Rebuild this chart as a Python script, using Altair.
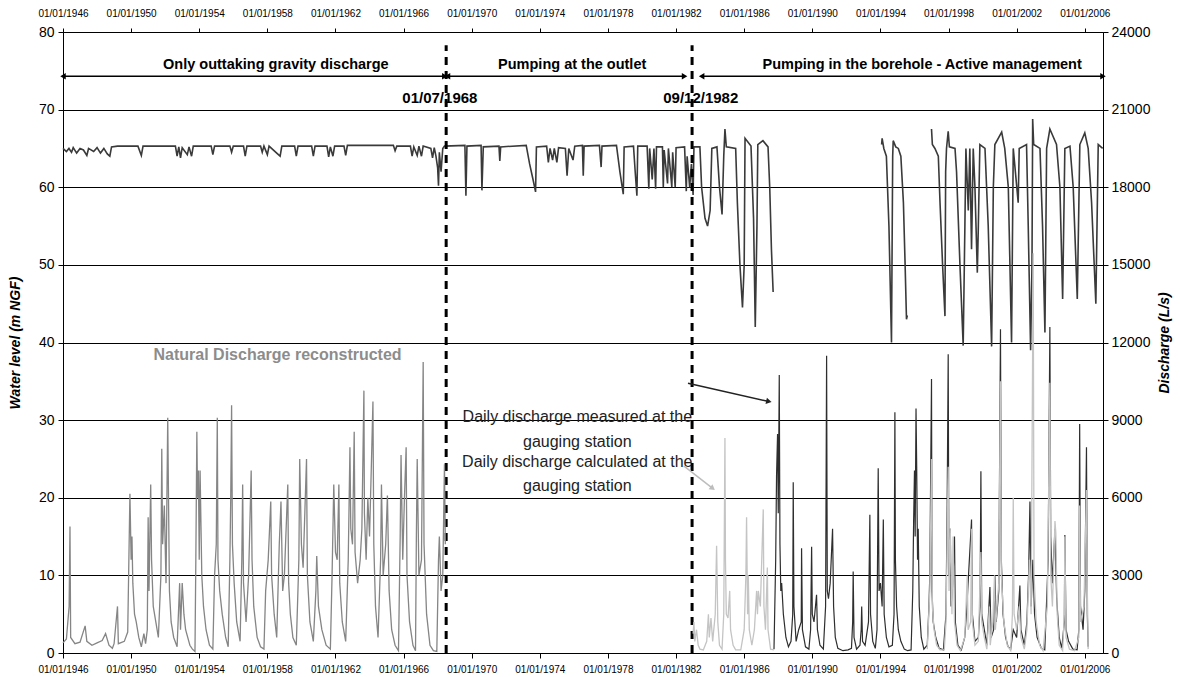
import altair as alt
import pandas as pd

FONT = "Liberation Sans"

# ---------------- Water level (m NGF) ----------------
wl1_t = [1946.00, 1946.20, 1946.35, 1946.50, 1946.60, 1946.80, 1947.00, 1947.20, 1947.40, 1947.50,
         1947.80, 1948.00, 1948.20, 1948.40, 1948.60, 1948.75, 1948.85, 1949.20, 1949.50, 1950.40,
         1950.60, 1950.70, 1952.60, 1952.70, 1952.80, 1952.90, 1953.00, 1953.30, 1953.40, 1953.55,
         1953.65, 1954.70, 1954.80, 1954.90, 1955.80, 1955.90, 1956.00, 1956.60, 1956.70, 1956.80,
         1957.60, 1957.70, 1957.80, 1958.00, 1958.10, 1958.60, 1958.75, 1958.85, 1959.60, 1959.70,
         1959.80, 1960.60, 1960.70, 1960.80, 1961.50, 1961.60, 1961.70, 1961.85, 1961.95, 1962.50,
         1962.60, 1962.70, 1965.40, 1965.50, 1965.60, 1966.40, 1966.50, 1966.60, 1966.80, 1966.90,
         1967.05, 1967.15, 1967.60, 1967.70, 1967.80, 1967.90, 1968.00, 1968.05, 1968.10, 1968.20,
         1968.30, 1968.40, 1969.60, 1969.66, 1969.72, 1970.55, 1970.60, 1970.68, 1971.60, 1971.65,
         1971.70, 1973.20, 1973.40, 1973.60, 1973.75, 1973.80, 1974.40, 1974.50, 1974.60, 1974.75,
         1974.85, 1975.00, 1975.10, 1975.50, 1975.60, 1975.70, 1975.95, 1976.05, 1976.50, 1976.55,
         1976.60, 1977.50, 1977.60, 1977.65, 1978.50, 1978.70, 1978.90, 1978.95, 1979.50, 1979.60,
         1979.70, 1979.75, 1980.30, 1980.40, 1980.45, 1980.60, 1980.70, 1980.80, 1980.85, 1981.20,
         1981.25, 1981.30, 1981.50, 1981.55, 1981.75, 1981.80, 1981.95, 1982.00, 1982.50, 1982.60,
         1982.65, 1982.80, 1982.90, 1983.00, 1983.05, 1983.40, 1983.50, 1983.70, 1983.85, 1984.00,
         1984.10, 1984.40, 1984.55, 1984.70, 1984.80, 1984.87, 1984.95, 1985.50, 1985.60, 1985.75,
         1985.90, 1986.00, 1986.05, 1986.40, 1986.55, 1986.65, 1986.75, 1986.80, 1987.10, 1987.40,
         1987.50, 1987.60, 1987.70]
wl1_v = [65.0, 64.6, 65.0, 64.5, 65.1, 64.4, 65.0, 64.8, 64.1, 65.0,
         64.6, 65.1, 64.4, 65.0, 64.3, 64.0, 65.2, 65.3, 65.3, 65.3,
         64.1, 65.3, 65.3, 64.0, 65.2, 63.8, 65.1, 64.2, 65.2, 64.0,
         65.3, 65.3, 64.2, 65.3, 65.3, 64.5, 65.3, 65.3, 64.0, 65.3,
         65.3, 64.5, 65.3, 64.2, 65.3, 64.3, 64.0, 65.3, 65.3, 64.0,
         65.3, 65.3, 64.0, 65.3, 65.3, 63.9, 65.2, 64.0, 65.3, 65.3,
         64.1, 65.4, 65.4, 64.7, 65.3, 65.3, 64.0, 65.2, 64.1, 65.3,
         64.0, 65.3, 65.0, 63.8, 65.1, 64.0, 62.5, 60.2, 64.5, 62.0,
         65.0, 65.3, 65.4, 58.9, 65.3, 65.4, 59.6, 65.2, 65.3, 63.4,
         65.2, 65.4, 63.0, 61.0, 59.4, 65.2, 65.3, 63.2, 65.0, 63.5,
         65.0, 63.2, 65.1, 65.0, 61.5, 65.0, 63.5, 65.3, 65.4, 61.5,
         65.3, 65.4, 62.6, 65.3, 65.4, 62.0, 59.1, 65.2, 65.3, 62.0,
         58.9, 65.3, 65.3, 59.8, 65.0, 61.0, 65.0, 59.8, 65.2, 65.2,
         60.0, 64.8, 60.5, 65.0, 60.0, 64.5, 60.0, 65.1, 65.2, 59.5,
         64.0, 60.0, 63.0, 59.0, 65.2, 65.2, 60.0, 56.0, 55.0, 57.0,
         65.0, 65.2, 60.0, 56.5, 64.0, 67.5, 65.2, 65.0, 58.0, 50.0,
         44.5, 50.0, 66.3, 65.3, 56.0, 42.0, 55.0, 65.5, 66.0, 65.2,
         60.0, 52.0, 46.5]

wl2_t = [1994.07, 1994.10, 1994.20, 1994.35, 1994.50, 1994.65, 1994.72, 1994.75, 1994.90, 1995.05,
         1995.20, 1995.35, 1995.45, 1995.53, 1995.58]
wl2_v = [65.5, 66.3, 65.0, 64.0, 55.0, 40.0, 64.0, 66.0, 65.2, 65.0,
         64.0, 58.0, 50.0, 43.0, 43.5]

wl3_t = [1997.00, 1997.05, 1997.20, 1997.40, 1997.50, 1997.65, 1997.79, 1997.83, 1997.88, 1997.98,
         1998.05, 1998.38, 1998.47, 1998.67, 1998.86, 1998.96, 1999.02, 1999.16, 1999.25, 1999.35,
         1999.45, 1999.55, 1999.69, 1999.75, 1999.84, 2000.14, 2000.33, 2000.53, 2000.63, 2000.72,
         2001.12, 2001.30, 2001.51, 2001.70, 2001.80, 2002.09, 2002.15, 2002.58, 2002.68, 2002.82,
         2002.90, 2002.94, 2003.00, 2003.37, 2003.52, 2003.66, 2003.76, 2003.95, 2004.34, 2004.54,
         2004.70, 2004.83, 2005.13, 2005.32, 2005.56, 2005.71, 2006.00, 2006.20, 2006.40, 2006.65,
         2006.79, 2007.05]
wl3_v = [67.5, 65.5, 65.0, 64.0, 58.0, 50.0, 43.4, 62.0, 65.0, 67.2,
         65.2, 65.0, 62.0, 50.0, 39.6, 55.0, 65.0, 57.0, 65.0, 52.0,
         65.0, 60.0, 49.0, 55.0, 65.5, 65.0, 55.0, 39.5, 60.0, 65.5,
         67.1, 65.0, 60.0, 40.0, 65.0, 58.0, 65.0, 65.5, 55.0, 39.0,
         50.0, 68.8, 65.5, 65.0, 55.0, 41.3, 65.0, 67.5, 65.5, 60.0,
         45.6, 65.0, 65.3, 60.0, 45.6, 65.5, 67.0, 65.0, 58.0, 45.0,
         65.5, 65.0]

# ---------------- Discharge (L/s) ----------------
nat_t = [1946.00, 1946.20, 1946.36, 1946.41, 1946.45, 1946.70, 1947.00, 1947.30, 1947.40, 1947.70,
         1948.00, 1948.30, 1948.50, 1948.70, 1948.90, 1949.00, 1949.20, 1949.25, 1949.60, 1949.80,
         1949.93, 1950.00, 1950.05, 1950.10, 1950.20, 1950.30, 1950.45, 1950.60, 1950.75, 1950.85,
         1950.95, 1951.00, 1951.05, 1951.15, 1951.20, 1951.30, 1951.45, 1951.60, 1951.75, 1951.80,
         1951.85, 1951.95, 1952.05, 1952.15, 1952.20, 1952.25, 1952.35, 1952.50, 1952.70, 1952.85,
         1952.90, 1953.00, 1953.10, 1953.20, 1953.45, 1953.60, 1953.75, 1953.80, 1953.86, 1953.90,
         1953.95, 1954.00, 1954.05, 1954.15, 1954.25, 1954.40, 1954.60, 1954.80, 1954.90, 1955.00,
         1955.06, 1955.10, 1955.20, 1955.35, 1955.55, 1955.70, 1955.80, 1955.85, 1955.90, 1955.95,
         1956.05, 1956.20, 1956.40, 1956.50, 1956.55, 1956.60, 1956.75, 1956.90, 1957.05, 1957.10,
         1957.20, 1957.40, 1957.60, 1957.80, 1957.90, 1958.05, 1958.20, 1958.25, 1958.40, 1958.55,
         1958.70, 1958.80, 1958.90, 1959.00, 1959.20, 1959.25, 1959.35, 1959.50, 1959.70, 1959.85,
         1959.90, 1960.00, 1960.10, 1960.30, 1960.35, 1960.50, 1960.70, 1960.85, 1960.90, 1961.00,
         1961.20, 1961.45, 1961.70, 1961.80, 1961.90, 1962.00, 1962.10, 1962.20, 1962.25, 1962.40,
         1962.60, 1962.75, 1962.85, 1962.90, 1963.00, 1963.10, 1963.15, 1963.30, 1963.45, 1963.55,
         1963.67, 1963.70, 1963.80, 1963.90, 1964.00, 1964.10, 1964.20, 1964.25, 1964.35, 1964.50,
         1964.65, 1964.70, 1964.80, 1964.95, 1965.05, 1965.15, 1965.30, 1965.50, 1965.70, 1965.80,
         1965.85, 1965.95, 1966.05, 1966.15, 1966.20, 1966.35, 1966.55, 1966.70, 1966.75, 1966.80,
         1966.90, 1967.05, 1967.15, 1967.20, 1967.35, 1967.55, 1967.75, 1967.95, 1968.05, 1968.10,
         1968.20, 1968.30, 1968.40, 1968.45]
nat_q = [390, 540, 1800, 4890, 600, 360, 420, 1050, 450, 300,
         390, 480, 750, 300, 180, 360, 1800, 360, 450, 810,
         6150, 3600, 4500, 2700, 1500, 1200, 600, 240, 750, 360,
         900, 5250, 2400, 6510, 3600, 1800, 1200, 600, 3000, 7890,
         4200, 5700, 2700, 9090, 5700, 2400, 1200, 600, 240, 2700,
         900, 2700, 1500, 900, 300, 150, 60, 3600, 8550, 6000,
         7050, 3600, 7050, 3000, 1800, 900, 300, 150, 3000, 4200,
         9090, 3600, 2400, 1500, 600, 240, 3600, 6000, 9570, 4200,
         2700, 1200, 450, 3600, 6510, 2700, 1200, 3000, 7050, 3600,
         1800, 600, 240, 150, 2400, 3600, 5850, 3000, 1500, 600,
         4200, 5850, 2400, 3000, 6510, 2700, 1500, 600, 300, 3600,
         7500, 4200, 3300, 7500, 3000, 1200, 450, 2400, 3750, 1800,
         900, 300, 150, 3000, 6510, 3900, 3600, 6510, 2700, 1200,
         450, 3600, 7950, 4800, 4200, 8550, 3900, 2700, 3600, 4800,
         10140, 5400, 3600, 6000, 4500, 7050, 9720, 4200, 1800, 600,
         3600, 6510, 3000, 4200, 6090, 2400, 900, 300, 90, 4500,
         7650, 3600, 6000, 7950, 3000, 1200, 300, 90, 4500, 7500,
         3000, 3600, 11250, 4200, 1500, 300, 90, 60, 3600, 4500,
         2400, 3000, 7290, 4200]

meas_t = [1987.75, 1987.85, 1987.90, 1987.96, 1988.00, 1988.06, 1988.10, 1988.15, 1988.20, 1988.30,
          1988.45, 1988.60, 1988.75, 1988.85, 1988.88, 1988.92, 1989.05, 1989.20, 1989.35, 1989.37,
          1989.42, 1989.60, 1989.80, 1989.90, 1989.96, 1990.00, 1990.10, 1990.25, 1990.30, 1990.45,
          1990.65, 1990.78, 1990.84, 1990.88, 1990.95, 1991.05, 1991.19, 1991.25, 1991.35, 1991.50,
          1991.80, 1992.10, 1992.30, 1992.37, 1992.40, 1992.45, 1992.60, 1992.80, 1992.87, 1992.90,
          1992.95, 1993.10, 1993.30, 1993.38, 1993.42, 1993.55, 1993.70, 1993.80, 1993.87, 1993.92,
          1994.00, 1994.10, 1994.17, 1994.22, 1994.35, 1994.50, 1994.70, 1994.80, 1994.85, 1994.88,
          1994.95, 1995.05, 1995.20, 1995.40, 1995.60, 1995.80, 1995.90, 1995.95, 1996.00, 1996.04,
          1996.09, 1996.13, 1996.18, 1996.22, 1996.28, 1996.40, 1996.55, 1996.75, 1996.85, 1996.90,
          1997.00, 1997.03, 1997.10, 1997.25, 1997.45, 1997.70, 1997.85, 1997.92, 1997.98, 1998.02,
          1998.10, 1998.15, 1998.25, 1998.35, 1998.40, 1998.55, 1998.75, 1998.95, 1999.05, 1999.35,
          1999.40, 1999.55, 1999.75, 1999.85, 1999.90, 1999.95, 2000.10, 2000.25, 2000.43, 2000.50,
          2000.65, 2000.72, 2000.80, 2000.95, 2001.05, 2001.10, 2001.20, 2001.35, 2001.50, 2001.65,
          2001.80, 2002.00, 2002.19, 2002.25, 2002.45, 2002.60, 2002.70, 2002.78, 2002.85, 2002.95,
          2003.05, 2003.20, 2003.45, 2003.65, 2003.85, 2003.95, 2004.00, 2004.10, 2004.25, 2004.35,
          2004.50, 2004.65, 2004.80, 2004.83, 2004.90, 2005.05, 2005.30, 2005.55, 2005.65, 2005.70,
          2005.75, 2005.90, 2006.00, 2006.10, 2006.15, 2006.20]
meas_q = [150, 3600, 6840, 8460, 5400, 10740, 4200, 2400, 2700, 1500,
          600, 240, 450, 1500, 6600, 1800, 450, 900, 1200, 4050,
          900, 240, 150, 900, 4110, 1500, 1200, 2250, 900, 300,
          150, 1800, 11490, 2400, 2100, 2700, 4800, 1800, 600, 180,
          90, 120, 180, 1200, 3150, 600, 150, 300, 900, 1800,
          450, 300, 1200, 5340, 1500, 450, 180, 900, 7140, 2400,
          2700, 1800, 5160, 1500, 600, 240, 300, 1500, 9300, 3600,
          1800, 900, 450, 150, 90, 120, 2400, 5100, 7050, 4500,
          9450, 7200, 3600, 4800, 1800, 600, 150, 300, 1800, 3000,
          10590, 2400, 1200, 600, 180, 120, 1500, 5760, 11550, 3000,
          4800, 1800, 2700, 4500, 1200, 300, 120, 600, 1500, 5160,
          1500, 450, 600, 1800, 7020, 1500, 900, 300, 2550, 600,
          900, 3000, 1200, 2400, 12510, 3600, 1500, 600, 240, 150,
          900, 600, 2610, 900, 300, 1200, 3000, 5850, 1800, 3600,
          1500, 600, 180, 120, 3600, 12600, 4500, 2700, 4800, 2100,
          600, 180, 1200, 4560, 900, 450, 150, 120, 900, 8850,
          1800, 900, 2400, 7950, 1500, 240]

calc1_t = [1983.00, 1983.05, 1983.10, 1983.20, 1983.30, 1983.40, 1983.60, 1983.80, 1983.90, 1983.95,
           1984.05, 1984.15, 1984.30, 1984.38, 1984.45, 1984.55, 1984.70, 1984.80, 1984.87, 1984.90,
           1984.95, 1985.05, 1985.15, 1985.20, 1985.35, 1985.50, 1985.80, 1986.00, 1986.10, 1986.14,
           1986.20, 1986.24, 1986.30, 1986.45, 1986.60, 1986.73, 1986.78, 1986.83, 1986.95, 1987.12,
           1987.16, 1987.25, 1987.36, 1987.40, 1987.55, 1987.75]
calc1_q = [750, 1200, 450, 900, 300, 150, 120, 450, 1500, 600,
           1350, 450, 1500, 4140, 1200, 300, 150, 1500, 8310, 3600,
           1500, 1350, 2400, 900, 300, 120, 120, 900, 3000, 5250,
           1500, 3000, 900, 300, 900, 2400, 1500, 2400, 1800, 5550,
           1800, 900, 3300, 900, 150, 120]

calc2_t = [1996.75, 1996.90, 1997.00, 1997.05, 1997.15, 1997.30, 1997.50, 1997.75, 1997.85, 1997.98,
           1998.03, 1998.10, 1998.20, 1998.27, 1998.35, 1998.50, 1998.70, 1998.95, 1999.10, 1999.15,
           1999.30, 1999.35, 1999.40, 1999.55, 1999.75, 1999.90, 1999.95, 2000.10, 2000.25, 2000.40,
           2000.45, 2000.60, 2000.70, 2000.75, 2000.95, 2001.05, 2001.10, 2001.25, 2001.45, 2001.65,
           2001.75, 2001.80, 2001.85, 2002.00, 2002.15, 2002.25, 2002.45, 2002.60, 2002.75, 2002.85,
           2002.97, 2003.02, 2003.15, 2003.35, 2003.55, 2003.80, 2003.95, 2004.00, 2004.10, 2004.25,
           2004.30, 2004.38, 2004.50, 2004.70, 2004.80, 2004.83, 2004.90, 2005.10, 2005.40, 2005.65,
           2005.70, 2005.75, 2005.95, 2006.10, 2006.15, 2006.20]
calc2_q = [150, 2400, 7500, 1800, 900, 300, 120, 120, 1200, 7200,
           2400, 4800, 1500, 4500, 1200, 300, 90, 600, 3000, 900,
           1200, 4800, 1200, 300, 450, 3900, 1200, 600, 150, 1800,
           300, 1200, 3000, 900, 2700, 10500, 3000, 1200, 300, 90,
           1500, 6000, 1500, 900, 1800, 600, 150, 900, 3600, 1500,
           15450, 3000, 1200, 300, 90, 1800, 10440, 3000, 1800, 5100,
           4650, 1500, 300, 90, 1500, 4500, 600, 150, 90, 600,
           5700, 1200, 1800, 6300, 2400, 150]

# ---------------- Annotations ----------------
year_ticks = list(range(1946, 2007, 4))
period_labels = ["Only outtaking gravity discharge", "Pumping at the outlet",
                 "Pumping in the borehole - Active management"]
period_label_t = [1958.5, 1975.9, 1996.45]
period_start = [1946.0, 1968.58, 1983.5]
period_end = [1968.42, 1982.5, 2007.07]
change_dates = ["01/07/1968", "09/12/1982"]
change_t = [1968.5, 1982.94]
change_label_t = [1968.13, 1983.45]

# ---------------- Build tables ----------------
wl = pd.concat([
    pd.DataFrame({"t": wl1_t, "val": wl1_v, "seg": "a"}),
    pd.DataFrame({"t": wl2_t, "val": wl2_v, "seg": "b"}),
    pd.DataFrame({"t": wl3_t, "val": wl3_v, "seg": "c"}),
])
nat = pd.DataFrame({"t": nat_t, "q": nat_q})
meas = pd.DataFrame({"t": meas_t, "q": meas_q})
calc = pd.concat([
    pd.DataFrame({"t": calc1_t, "q": calc1_q, "seg": "a"}),
    pd.DataFrame({"t": calc2_t, "q": calc2_q, "seg": "b"}),
])

xscale = alt.Scale(domain=[1946, 2007.07], nice=False, zero=False)
ylscale = alt.Scale(domain=[0, 80], nice=False, zero=True)
yrscale = alt.Scale(domain=[0, 24000], nice=False, zero=True)

common_axis = dict(domainColor="black", tickColor="black", labelColor="black",
                   labelFont=FONT, titleFont=FONT, labelFlush=False, domainWidth=1)

bottom_axis = alt.Axis(orient="bottom", values=year_ticks, labelExpr="'01/01/' + datum.value",
                       title=None, grid=False, tickSize=5, labelPadding=6, labelFontSize=10,
                       labelOverlap=False, **common_axis)
top_axis = alt.Axis(orient="top", values=year_ticks, labelExpr="'01/01/' + datum.value",
                    title=None, grid=False, tickSize=4, labelPadding=10, labelFontSize=10,
                    labelOverlap=False, **common_axis)
left_axis = alt.Axis(orient="left", values=list(range(0, 81, 10)), title="Water level (m NGF)",
                     titleFontStyle="italic", titleFontWeight="bold", titleFontSize=14,
                     titlePadding=16, grid=True, gridColor="black", gridOpacity=1, gridWidth=1,
                     tickSize=5, labelPadding=4, labelFontSize=14, **common_axis)
right_axis = alt.Axis(orient="right", values=list(range(0, 24001, 3000)), format="d",
                      title="Discharge (L/s)",
                      titleFontStyle="italic", titleFontWeight="bold", titleFontSize=14,
                      titleAngle=270, titleBaseline="bottom", titlePadding=22, grid=False,
                      tickSize=5, labelPadding=3, labelFontSize=14, **common_axis)

XB = alt.X("t:Q", scale=xscale, axis=bottom_axis)
YL = alt.Y("val:Q", scale=ylscale, axis=left_axis)
XT = alt.X("t:Q", scale=xscale, axis=top_axis)
YR = alt.Y("q:Q", scale=yrscale, axis=right_axis)

wl_line = alt.Chart(wl).mark_line(color="#3a3a3a", strokeWidth=1.6).encode(
    x=XB, y=YL, detail="seg:N")

rules_df = pd.DataFrame({"t": change_t, "val": [0, 0], "val2": [78.3, 78.3]})
dashed = alt.Chart(rules_df).mark_rule(color="black", strokeWidth=3, strokeDash=[8, 6]).encode(
    x=XB, y=YL, y2="val2:Q")

arr_df = pd.DataFrame({"t": period_start, "t2": period_end, "val": [74.3] * 3})
arr_lines = alt.Chart(arr_df).mark_rule(color="black", strokeWidth=1.5).encode(
    x=XB, x2="t2:Q", y=YL)
heads_l = pd.DataFrame({"t": period_start, "val": [74.3] * 3})
heads_r = pd.DataFrame({"t": period_end, "val": [74.3] * 3})
arr_hl = alt.Chart(heads_l).mark_point(shape="triangle-left", filled=True, color="black",
                                       size=40, opacity=1).encode(x=XB, y=YL)
arr_hr = alt.Chart(heads_r).mark_point(shape="triangle-right", filled=True, color="black",
                                       size=40, opacity=1).encode(x=XB, y=YL)

per_df = pd.DataFrame({"t": period_label_t, "val": [75.7] * 3, "label": period_labels})
per_text = alt.Chart(per_df).mark_text(font=FONT, fontSize=14.5, fontWeight="bold", color="black",
                                       baseline="middle", align="center").encode(
    x=XB, y=YL, text="label:N")

chg_df = pd.DataFrame({"t": change_label_t, "val": [71.5, 71.5], "label": change_dates})
chg_text = alt.Chart(chg_df).mark_text(font=FONT, fontSize=15, fontWeight="bold", color="black",
                                       baseline="middle", align="center").encode(
    x=XB, y=YL, text="label:N")

nat_lbl = pd.DataFrame({"t": [1958.6], "val": [38.35], "label": ["Natural Discharge reconstructed"]})
nat_text = alt.Chart(nat_lbl).mark_text(font=FONT, fontSize=16, fontWeight="bold", color="#8c8c8c",
                                        baseline="middle", align="center").encode(
    x=XB, y=YL, text="label:N")

ann_df = pd.DataFrame({
    "t": [1976.2, 1976.2, 1976.2, 1976.2],
    "val": [30.4, 27.2, 24.6, 21.5],
    "label": ["Daily discharge measured at the", "gauging station",
              "Daily discharge calculated at the", "gauging station"],
})
ann_text = alt.Chart(ann_df).mark_text(font=FONT, fontSize=16, color="#222222",
                                       baseline="middle", align="center").encode(
    x=XB, y=YL, text="label:N")

diag1 = pd.DataFrame({"t": [1982.70], "t2": [1987.45], "val": [34.75], "val2": [32.4]})
diag1_line = alt.Chart(diag1).mark_rule(color="#222222", strokeWidth=1.5).encode(
    x=XB, x2="t2:Q", y=YL, y2="val2:Q")
diag1_head = alt.Chart(pd.DataFrame({"t": [1987.45], "val": [32.4]})).mark_point(
    shape="triangle-right", filled=True, color="#222222", size=40, opacity=1, angle=13).encode(
    x=XB, y=YL)
diag2 = pd.DataFrame({"t": [1982.45], "t2": [1984.15], "val": [24.1], "val2": [21.2]})
diag2_line = alt.Chart(diag2).mark_rule(color="#bdbdbd", strokeWidth=1.5).encode(
    x=XB, x2="t2:Q", y=YL, y2="val2:Q")
diag2_head = alt.Chart(pd.DataFrame({"t": [1984.15], "val": [21.2]})).mark_point(
    shape="triangle-right", filled=True, color="#bdbdbd", size=40, opacity=1, angle=38).encode(
    x=XB, y=YL)

left_layer = alt.layer(wl_line, dashed, arr_lines, arr_hl, arr_hr, per_text, chg_text,
                       nat_text, ann_text, diag1_line, diag1_head, diag2_line, diag2_head)

nat_line = alt.Chart(nat).mark_line(color="#858585", strokeWidth=1.3).encode(x=XT, y=YR)
meas_line = alt.Chart(meas).mark_line(color="#2e2e2e", strokeWidth=1.2).encode(x=XT, y=YR)
calc_line = alt.Chart(calc).mark_line(color="#c4c4c4", strokeWidth=1.3).encode(
    x=XT, y=YR, detail="seg:N")
right_layer = alt.layer(nat_line, meas_line, calc_line)

chart = alt.layer(left_layer, right_layer).resolve_scale(y="independent").resolve_axis(
    x="independent", y="independent").properties(
    width=1040, height=621,
    autosize=alt.AutoSizeParams(type="none"),
    padding={"left": 63, "top": 32, "right": 77, "bottom": 24},
).configure_view(stroke=None).configure(background="white")

chart.save("out.html", embed_options={"renderer": "svg", "actions": False})
